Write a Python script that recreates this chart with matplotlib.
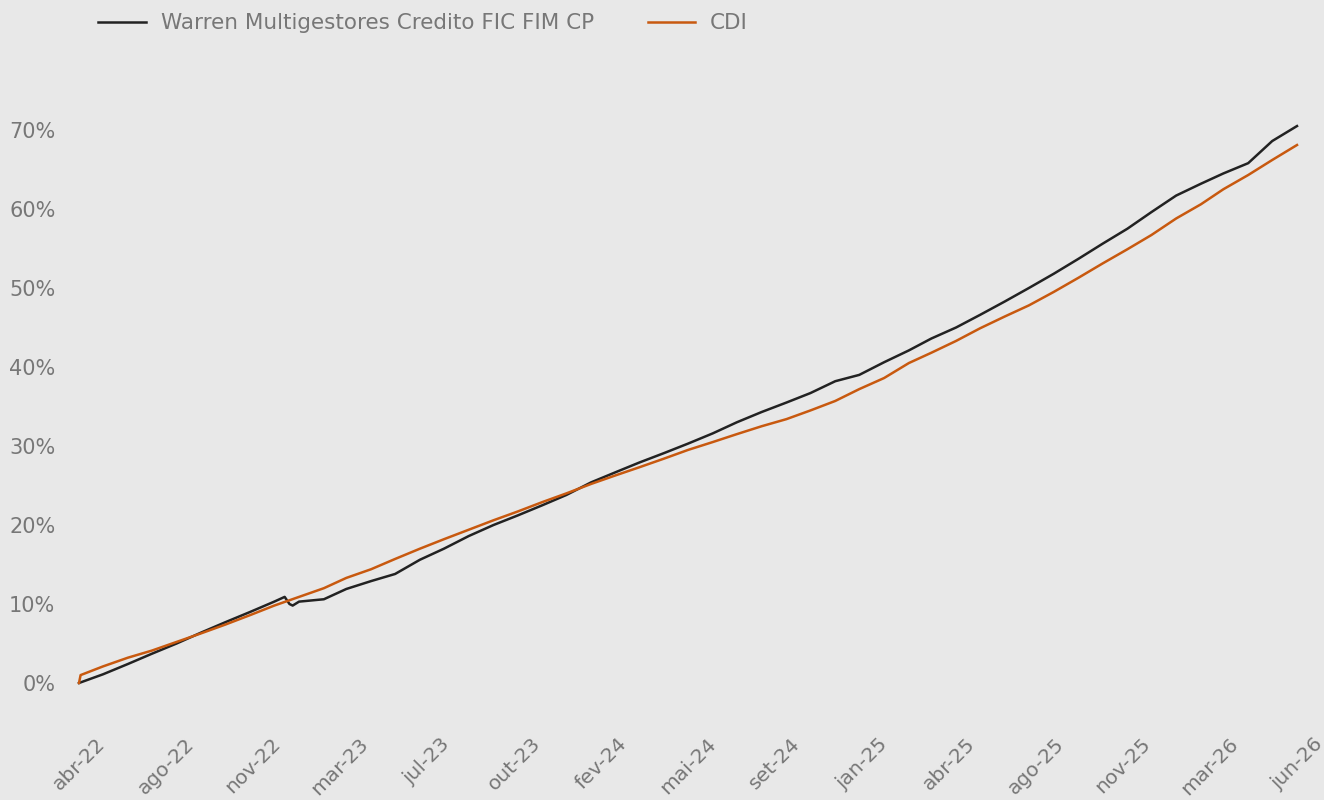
import matplotlib
matplotlib.use("Agg")
import matplotlib.pyplot as plt
import matplotlib.dates as mdates
import numpy as np
import pandas as pd

# ---- data ----
monthly_dates = pd.date_range("2022-04-20", periods=51, freq=pd.DateOffset(months=1))
fund_monthly = [0.0, 1.1, 2.4, 3.7, 5.0, 6.4, 7.7, 9.0, 10.3, 10.3, 10.6, 11.9, 12.9, 13.8,
                15.6, 17.0, 18.6, 20.0, 21.2, 22.5, 23.8, 25.4, 26.7, 27.9, 29.1, 30.3,
                31.6, 33.0, 34.3, 35.5, 36.7, 38.2, 39.0, 40.6, 42.1, 43.6, 45.0, 46.6,
                48.3, 50.0, 51.8, 53.7, 55.6, 57.5, 59.6, 61.7, 63.2, 64.5, 65.8, 68.6, 70.5]
cdi_monthly = [0.0, 2.1, 3.2, 4.1, 5.2, 6.3, 7.4, 8.6, 9.8, 10.9, 12.0, 13.3, 14.4, 15.7,
               17.0, 18.2, 19.4, 20.6, 21.7, 22.9, 24.0, 25.2, 26.3, 27.3, 28.4, 29.5,
               30.5, 31.5, 32.5, 33.4, 34.5, 35.7, 37.2, 38.6, 40.5, 41.8, 43.3, 44.9,
               46.4, 47.8, 49.5, 51.3, 53.1, 54.9, 56.7, 58.8, 60.6, 62.5, 64.3, 66.2, 68.1]
# extra detail points
fund_extra_dates = ["2023-01-02", "2023-01-08", "2023-01-12"]
fund_extra_vals = [10.9, 10.0, 9.8]
cdi_extra_dates = ["2022-04-22"]
cdi_extra_vals = [1.0]

tick_labels = ["abr-22", "ago-22", "nov-22", "mar-23", "jul-23", "out-23", "fev-24",
               "mai-24", "set-24", "jan-25", "abr-25", "ago-25", "nov-25", "mar-26", "jun-26"]

series_names = ["Warren Multigestores Credito FIC FIM CP", "CDI"]
colors = ["#222222", "#c8590f"]

fund = pd.Series(fund_monthly, index=monthly_dates)
fund = pd.concat([fund, pd.Series(fund_extra_vals, index=pd.to_datetime(fund_extra_dates))]).sort_index()
cdi = pd.Series(cdi_monthly, index=monthly_dates)
cdi = pd.concat([cdi, pd.Series(cdi_extra_vals, index=pd.to_datetime(cdi_extra_dates))]).sort_index()

bg = "#e8e8e8"
txt = "#777777"

fig = plt.figure(figsize=(13.24, 8.0), dpi=100, facecolor=bg)
W, H = 1324, 800
ax = fig.add_axes([79 / W, (H - 730) / H, (1297 - 79) / W, (730 - 60) / H], facecolor=bg)

l1, = ax.plot(fund.index, fund.values / 100, color=colors[0], lw=1.8, clip_on=False,
              label=series_names[0])
l2, = ax.plot(cdi.index, cdi.values / 100, color=colors[1], lw=1.8, clip_on=False,
              label=series_names[1])

x0, x1 = mdates.date2num(monthly_dates[0]), mdates.date2num(monthly_dates[-1])
ax.set_xlim(x0, x1)
ax.set_ylim(-0.0595, 0.7886)
ax.set_xticks(np.linspace(x0, x1, len(tick_labels)))
ax.set_xticklabels(tick_labels, rotation=45, ha="center", fontsize=14.5, color=txt)
ax.set_yticks(np.arange(0, 0.71, 0.1))
ax.set_yticklabels([f"{int(round(v*100))}%" for v in np.arange(0, 0.71, 0.1)],
                   fontsize=15, color=txt)
ax.tick_params(axis="both", length=0)
ax.tick_params(axis="y", pad=17)
ax.tick_params(axis="x", pad=3)
for s in ax.spines.values():
    s.set_visible(False)

fig.legend(handles=[l1, l2], loc="upper left", bbox_to_anchor=(79 / W, 1 + 6 / H),
           ncol=2, frameon=False, fontsize=15.5, labelcolor=txt, handlelength=2.2,
           columnspacing=2.5, handletextpad=0.7)

fig.savefig("out.png", dpi=100, facecolor=bg)
